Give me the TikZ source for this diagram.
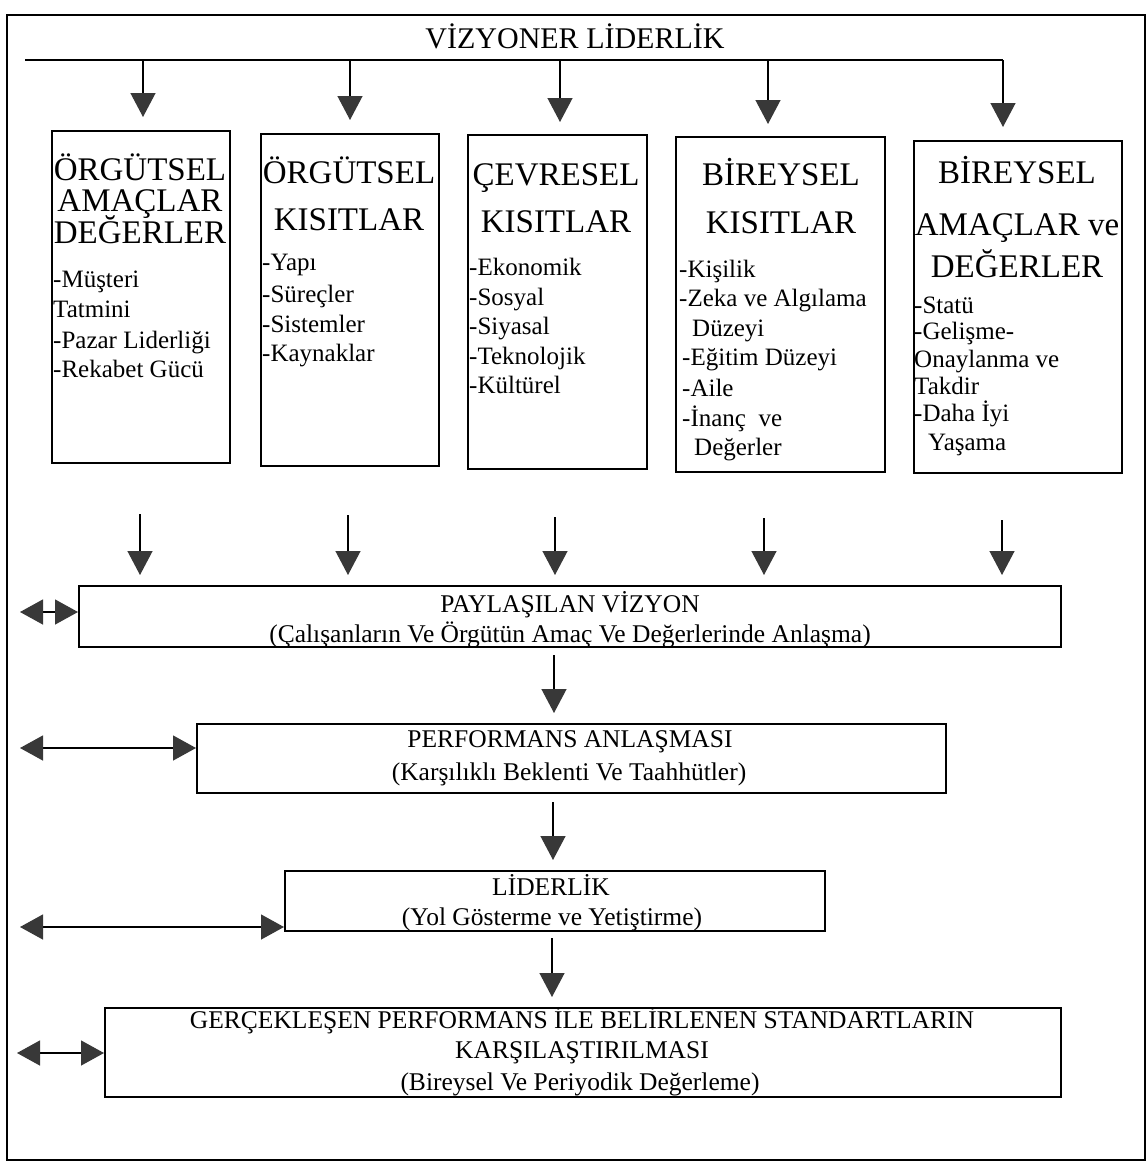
\documentclass[tikz,border=0pt]{standalone}
\usepackage{fontspec}
\setmainfont{Liberation Serif}
\usetikzlibrary{arrows.meta}
\begin{document}
\begin{tikzpicture}[x=1pt,y=-1pt,
  box/.style={draw, line width=1.6pt, anchor=north west, inner sep=0pt},
  arr/.style={line width=1.3pt, shorten >=8pt, -{Triangle[length=24pt,width=25pt,color=black!78]}},
  darr/.style={line width=1.3pt, {Triangle[length=23pt,width=25pt,color=black!78]}-{Triangle[length=23pt,width=25pt,color=black!78]}},
  hd/.style={anchor=base, inner sep=0pt, font=\fontsize{33}{33}\selectfont},
  it/.style={anchor=base west, inner sep=0pt, font=\fontsize{25}{25}\selectfont},
  bt/.style={anchor=base, inner sep=0pt, font=\fontsize{25.5}{25.5}\selectfont},
  ttl/.style={anchor=base, inner sep=0pt, font=\fontsize{30}{30}\selectfont}
]
\useasboundingbox (0,0) rectangle (1148,1173);
\fill[white] (0,0) rectangle (1148,1173);
% frame
\draw[line width=1.5pt] (7,15) rectangle (1145,1160);
\node[ttl] (title) at (575,48) {VİZYONER LİDERLİK};

% top boxes
\node[box, minimum width=178pt, minimum height=332pt] (b1) at (51,130) {};
\node[box, minimum width=178pt, minimum height=332pt] (b2) at (260,133) {};
\node[box, minimum width=179pt, minimum height=334pt] (b3) at (467,134) {};
\node[box, minimum width=209pt, minimum height=335pt] (b4) at (675,136) {};
\node[box, minimum width=208pt, minimum height=332pt] (b5) at (913,140) {};

% distribution line
\coordinate (L0) at (25,60);
\coordinate (a1) at (143,60);
\coordinate (a2) at (350,60);
\coordinate (a3) at (560,60);
\coordinate (a4) at (768,60);
\coordinate (a5) at (1003,60);
\draw[line width=1.5pt] (L0) -- (a5);
\draw[arr, shorten >=13pt] (a1) -- (a1 |- b1.north);
\draw[arr, shorten >=13pt] (a2) -- (a2 |- b2.north);
\draw[arr, shorten >=12pt] (a3) -- (a3 |- b3.north);
\draw[arr, shorten >=12pt] (a4) -- (a4 |- b4.north);
\draw[arr, shorten >=13pt] (a5) -- (a5 |- b5.north);

% box 1 text
\node[hd] (t1a) at (140,180) {ÖRGÜTSEL};
\node[hd] (t1b) at (140,211) {AMAÇLAR};
\node[hd] (t1c) at (140,243) {DEĞERLER};
\node[it] (t1d) at (53,287) {-Müşteri};
\node[it] (t1e) at (53,317) {Tatmini};
\node[it] (t1f) at (53,348) {-Pazar Liderliği};
\node[it] (t1g) at (53,377) {-Rekabet Gücü};

% box 2 text
\node[hd] (t2a) at (349,183) {ÖRGÜTSEL};
\node[hd] (t2b) at (349,230) {KISITLAR};
\node[it] (t2c) at (262,270) {-Yapı};
\node[it] (t2d) at (262,302) {-Süreçler};
\node[it] (t2e) at (262,332) {-Sistemler};
\node[it] (t2f) at (262,361) {-Kaynaklar};

% box 3 text
\node[hd] (t3a) at (556,185) {ÇEVRESEL};
\node[hd] (t3b) at (556,232) {KISITLAR};
\node[it] (t3c) at (469,275) {-Ekonomik};
\node[it] (t3d) at (469,305) {-Sosyal};
\node[it] (t3e) at (469,334) {-Siyasal};
\node[it] (t3f) at (469,364) {-Teknolojik};
\node[it] (t3g) at (469,393) {-Kültürel};

% box 4 text
\node[hd] (t4a) at (781,185) {BİREYSEL};
\node[hd] (t4b) at (781,233) {KISITLAR};
\node[it] (t4c) at (679,277) {-Kişilik};
\node[it] (t4d) at (679,306) {-Zeka ve Algılama};
\node[it] (t4e) at (692,336) {Düzeyi};
\node[it] (t4f) at (682,365) {-Eğitim Düzeyi};
\node[it] (t4g) at (682,396) {-Aile};
\node[it] (t4h) at (682,426) {-İnanç\ \ ve};
\node[it] (t4i) at (694,455) {Değerler};

% box 5 text
\node[hd] (t5a) at (1017,183) {BİREYSEL};
\node[hd] (t5b) at (1017,235) {AMAÇLAR ve};
\node[hd] (t5c) at (1017,277) {DEĞERLER};
\node[it] (t5d) at (914,313) {-Statü};
\node[it] (t5e) at (914,339) {-Gelişme-};
\node[it] (t5f) at (914,367) {Onaylanma ve};
\node[it] (t5g) at (914,394) {Takdir};
\node[it] (t5h) at (914,421) {-Daha İyi};
\node[it] (t5i) at (928,450) {Yaşama};

% lower boxes
\node[box, minimum width=982pt, minimum height=61pt] (pv) at (78,585) {};
\node[box, minimum width=749pt, minimum height=69pt] (pa) at (196,723) {};
\node[box, minimum width=540pt, minimum height=60pt] (ld) at (284,870) {};
\node[box, minimum width=956pt, minimum height=89pt] (gp) at (104,1007) {};

\node[bt] (pv1) at (570,612) {PAYLAŞILAN VİZYON};
\node[bt] (pv2) at (570,642) {(Çalışanların Ve Örgütün Amaç Ve Değerlerinde Anlaşma)};
\node[bt] (pa1) at (570,747) {PERFORMANS ANLAŞMASI};
\node[bt] (pa2) at (569,780) {(Karşılıklı Beklenti Ve Taahhütler)};
\node[bt] (ld1) at (551,895) {LİDERLİK};
\node[bt] (ld2) at (552,925) {(Yol Gösterme ve Yetiştirme)};
\node[bt] (gp1) at (582,1028) {GERÇEKLEŞEN PERFORMANS İLE BELİRLENEN STANDARTLARIN};
\node[bt] (gp2) at (582,1058) {KARŞILAŞTIRILMASI};
\node[bt] (gp3) at (580,1090) {(Bireysel Ve Periyodik Değerleme)};

% second row arrows
\coordinate (s1) at (140,514);
\coordinate (s2) at (348,515);
\coordinate (s3) at (555,517);
\coordinate (s4) at (764,518);
\coordinate (s5) at (1002,520);
\foreach \s in {s1,s2,s3,s4,s5} \draw[arr, shorten >=10pt] (\s) -- (\s |- pv.north);

% vertical chain
\coordinate (u1) at (554,655);
\coordinate (u2) at (553,802);
\coordinate (u3) at (552,938);
\draw[arr, shorten >=10pt] (u1) -- (u1 |- pa.north);
\draw[arr, shorten >=10pt] (u2) -- (u2 |- ld.north);
\draw[arr, shorten >=10pt] (u3) -- (u3 |- gp.north);

% left double arrows
\coordinate (d1) at (20,612);
\coordinate (d2) at (20,748);
\coordinate (d3) at (20,927);
\coordinate (d4) at (17,1053);
\draw[darr] (d1) -- (d1 -| pv.west);
\draw[darr] (d2) -- (d2 -| pa.west);
\draw[darr] (d3) -- (d3 -| ld.west);
\draw[darr] (d4) -- (d4 -| gp.west);
\end{tikzpicture}
\end{document}
